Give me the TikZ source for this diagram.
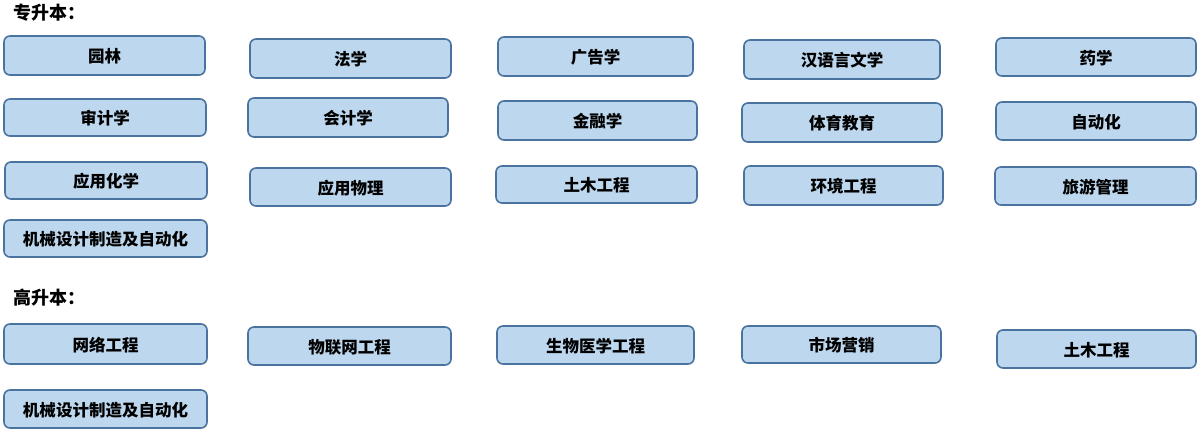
\documentclass[tikz,border=0pt]{standalone}
\usepackage{fontspec}
\newfontfamily\cjk{Noto Sans CJK SC}
\tikzset{
  major/.style={draw=boxline, fill=boxfill, line width=1.6pt, rounded corners=6pt},
  majortext/.style={font=\cjk\bfseries\fontsize{16.5}{19}\selectfont, text=black},
  heading/.style={font=\cjk\bfseries\fontsize{18}{21}\selectfont, anchor=west, inner sep=0pt}
}
\definecolor{boxfill}{HTML}{BDD7EE}
\definecolor{boxline}{HTML}{4A73A0}
\newcommand{\mybox}[6]{% name, x1, y1, x2, y2, text
  \draw[major] (#2,#3) rectangle (#4,#5);
  \node[majortext] (#1) at ({(#2+#4)/2},{(#3+#5)/2+1}) {#6};
}
\begin{document}
\begin{tikzpicture}[x=1pt,y=-1pt]
\useasboundingbox (0,0) rectangle (1199,435);
\node[heading] (h1) at (13,13) {专升本：};
\node[heading] (h2) at (13,298) {高升本：};
% row 1
\mybox{a1}{4}{36}{205}{75}{园林}
\mybox{a2}{250}{39}{451}{78}{法学}
\mybox{a3}{498}{37}{693}{76}{广告学}
\mybox{a4}{744}{40}{940}{79}{汉语言文学}
\mybox{a5}{996}{38}{1196}{76}{药学}
% row 2
\mybox{b1}{4}{99}{206}{136}{审计学}
\mybox{b2}{248}{98}{448}{137}{会计学}
\mybox{b3}{498}{101}{697}{140}{金融学}
\mybox{b4}{742}{103}{942}{142}{体育教育}
\mybox{b5}{996}{102}{1196}{140}{自动化}
% row 3
\mybox{c1}{5}{162}{207}{199}{应用化学}
\mybox{c2}{250}{168}{451}{206}{应用物理}
\mybox{c3}{496}{166}{697}{203}{土木工程}
\mybox{c4}{744}{166}{943}{205}{环境工程}
\mybox{c5}{995}{167}{1196}{205}{旅游管理}
% row 4
\mybox{d1}{4}{220}{207}{257}{机械设计制造及自动化}
% row 5
\mybox{e1}{4}{324}{207}{364}{网络工程}
\mybox{e2}{248}{327}{451}{365}{物联网工程}
\mybox{e3}{497}{326}{694}{364}{生物医学工程}
\mybox{e4}{742}{326}{941}{363}{市场营销}
\mybox{e5}{997}{330}{1196}{368}{土木工程}
% row 6
\mybox{f1}{4}{390}{207}{428}{机械设计制造及自动化}
\end{tikzpicture}
\end{document}
